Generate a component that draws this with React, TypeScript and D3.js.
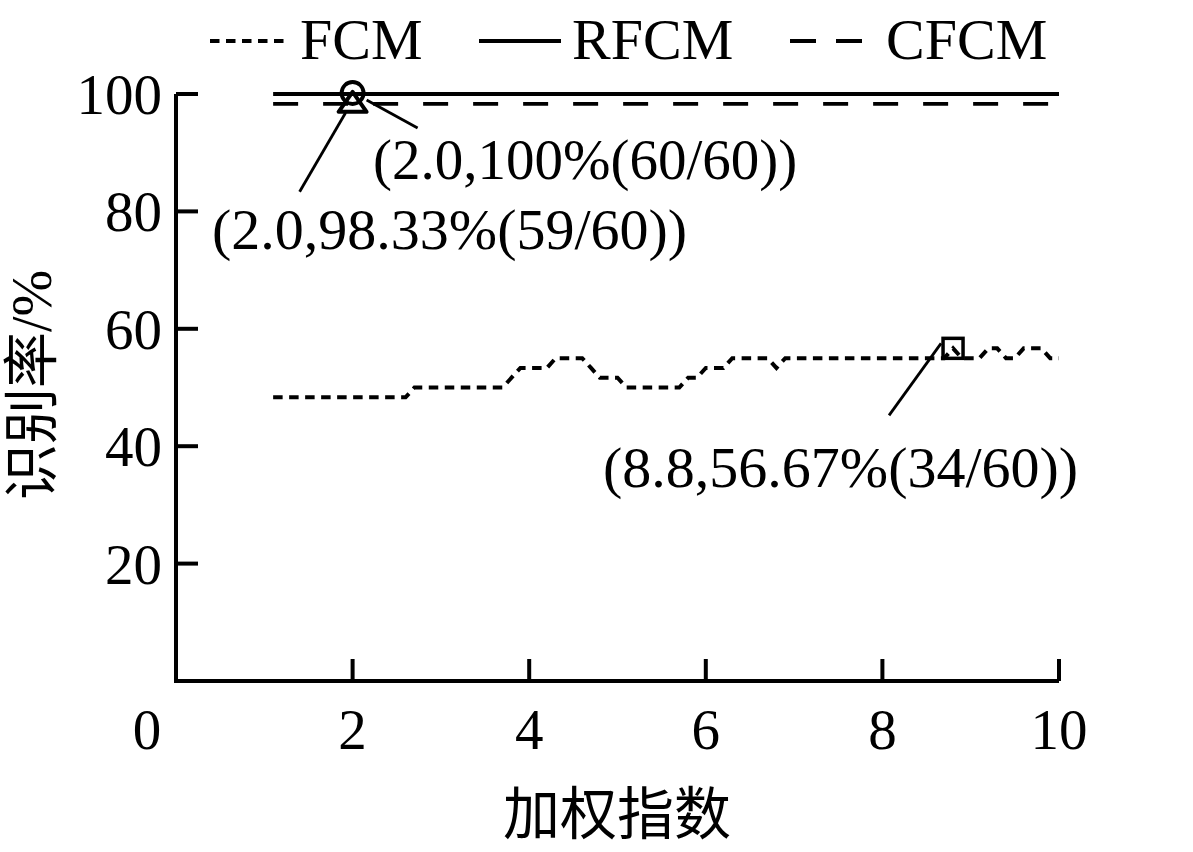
import React from "react";
import * as d3 from "d3";

const weights = [
  1.1, 1.2, 1.3, 1.4, 1.5, 1.6, 1.7, 1.8, 1.9, 2.0,
  2.1, 2.2, 2.3, 2.4, 2.5, 2.6, 2.7, 2.8, 2.9, 3.0,
  3.1, 3.2, 3.3, 3.4, 3.5, 3.6, 3.7, 3.8, 3.9, 4.0,
  4.1, 4.2, 4.3, 4.4, 4.5, 4.6, 4.7, 4.8, 4.9, 5.0,
  5.1, 5.2, 5.3, 5.4, 5.5, 5.6, 5.7, 5.8, 5.9, 6.0,
  6.1, 6.2, 6.3, 6.4, 6.5, 6.6, 6.7, 6.8, 6.9, 7.0,
  7.1, 7.2, 7.3, 7.4, 7.5, 7.6, 7.7, 7.8, 7.9, 8.0,
  8.1, 8.2, 8.3, 8.4, 8.5, 8.6, 8.7, 8.8, 8.9, 9.0,
  9.1, 9.2, 9.3, 9.4, 9.5, 9.6, 9.7, 9.8, 9.9, 10.0,
];

const fcm = [
  48.33, 48.33, 48.33, 48.33, 48.33, 48.33, 48.33, 48.33, 48.33, 48.33,
  48.33, 48.33, 48.33, 48.33, 48.33, 48.33, 50, 50, 50, 50,
  50, 50, 50, 50, 50, 50, 50, 51.67, 53.33, 53.33,
  53.33, 53.33, 55, 55, 55, 55, 53.33, 51.67, 51.67, 51.67,
  50, 50, 50, 50, 50, 50, 50, 51.67, 51.67, 53.33,
  53.33, 53.33, 55, 55, 55, 55, 55, 53.33, 55, 55,
  55, 55, 55, 55, 55, 55, 55, 55, 55, 55,
  55, 55, 55, 55, 55, 55, 55, 56.67, 55, 55,
  55, 56.67, 56.67, 55, 55, 56.67, 56.67, 56.67, 55, 55,
];

const rfcmX = [1.1, 10.0];
const rfcm = [100, 100];
const cfcmX = [1.1, 10.0];
const cfcm = [98.33, 98.33];

const xTicks = [0, 2, 4, 6, 8, 10];
const yTicks = [20, 40, 60, 80, 100];

const legendNames = ["FCM", "RFCM", "CFCM"];

const annotations = [
  { x: 2.0, y: 100, text: "(2.0,100%(60/60))" },
  { x: 2.0, y: 98.33, text: "(2.0,98.33%(59/60))" },
  { x: 8.8, y: 56.67, text: "(8.8,56.67%(34/60))" },
];

const W = 1193;
const H = 852;
const serif = "'Liberation Serif', 'Times New Roman', serif";
const cjk = "'Liberation Serif', 'Noto Sans CJK SC', serif";

export default function App() {
  const x = d3.scaleLinear().domain([0, 10]).range([176, 1059]);
  const y = d3.scaleLinear().domain([0, 100]).range([681, 94]);

  const line = d3
    .line<[number, number]>()
    .x((d) => x(d[0]))
    .y((d) => y(d[1]));

  const fcmPts = weights.map((w, i) => [w, fcm[i]] as [number, number]);
  const rfcmPts = rfcmX.map((w, i) => [w, rfcm[i]] as [number, number]);
  const cfcmPts = cfcmX.map((w, i) => [w, cfcm[i]] as [number, number]);

  const styles = [
    { dash: "9.5,6.5", width: 4 },
    { dash: "none", width: 4 },
    { dash: "25,25", width: 3.8 },
  ];
  const legendLayout = [
    { x1: 210, x2: 285, tx: 300 },
    { x1: 479, x2: 561, tx: 572 },
    { x1: 790, x2: 866, tx: 886, dash: "26,20" },
  ];

  const a0 = annotations[0];
  const a1 = annotations[1];
  const a2 = annotations[2];

  const cx0 = x(a0.x);
  const cy0 = y(a0.y);
  const cx1 = x(a1.x);
  const cy1 = y(a1.y);
  const cx2 = x(a2.x);
  const cy2 = y(a2.y);

  const tri = `M${cx1},${cy1 - 12} L${cx1 + 14},${cy1 + 8} L${cx1 - 14},${cy1 + 8} Z`;

  return (
    <svg
      width={W}
      height={H}
      style={{ position: "absolute", left: 0, top: 0, background: "#fff" }}
    >
      <path
        d={line(fcmPts) || ""}
        fill="none"
        stroke="#000"
        strokeWidth={styles[0].width}
        strokeDasharray={styles[0].dash}
      />
      <path
        d={line(rfcmPts) || ""}
        fill="none"
        stroke="#000"
        strokeWidth={styles[1].width}
      />
      <path
        d={line(cfcmPts) || ""}
        fill="none"
        stroke="#000"
        strokeWidth={styles[2].width}
        strokeDasharray={styles[2].dash}
      />

      <path
        d={`M${x(0)},${y(100)} L${x(0)},${y(0)} L${x(10)},${y(0)}`}
        fill="none"
        stroke="#000"
        strokeWidth={4}
      />
      {yTicks.map((t) => (
        <g key={"y" + t}>
          <line x1={x(0)} x2={x(0) + 22} y1={y(t)} y2={y(t)} stroke="#000" strokeWidth={4} />
          <text
            x={162}
            y={y(t) + 20}
            textAnchor="end"
            fontFamily={serif}
            fontSize={57}
          >
            {t}
          </text>
        </g>
      ))}
      {xTicks.map((t) => (
        <g key={"x" + t}>
          {t > 0 && (
            <line x1={x(t)} x2={x(t)} y1={y(0)} y2={y(0) - 22} stroke="#000" strokeWidth={4} />
          )}
          <text
            x={t === 0 ? x(t) - 29 : x(t)}
            y={749}
            textAnchor="middle"
            fontFamily={serif}
            fontSize={57}
          >
            {t}
          </text>
        </g>
      ))}

      <text x={617} y={834} textAnchor="middle" fontFamily={cjk} fontSize={57}>
        加权指数
      </text>
      <text
        transform={`translate(51,385) rotate(-90)`}
        textAnchor="middle"
        fontFamily={cjk}
        fontSize={56}
      >
        识别率/%
      </text>

      {legendNames.map((n, i) => (
        <g key={n}>
          <line
            x1={legendLayout[i].x1}
            x2={legendLayout[i].x2}
            y1={41}
            y2={41}
            stroke="#000"
            strokeWidth={styles[i].width}
            strokeDasharray={legendLayout[i].dash || styles[i].dash}
          />
          <text x={legendLayout[i].tx} y={59} fontFamily={serif} fontSize={58}>
            {n}
          </text>
        </g>
      ))}

      <circle cx={cx0} cy={cy0 - 1} r={11} fill="none" stroke="#000" strokeWidth={3.8} />
      <path d={tri} fill="none" stroke="#000" strokeWidth={4} strokeLinejoin="round" />
      <rect x={cx2 - 10} y={cy2 - 10} width={20} height={20} fill="none" stroke="#000" strokeWidth={3.5} />

      <line x1={cx0 + 14} y1={cy0 + 6} x2={cx0 + 65} y2={cy0 + 34} stroke="#000" strokeWidth={2.8} />
      <line x1={cx1 - 7} y1={cy1 + 9} x2={cx1 - 53} y2={cy1 + 88} stroke="#000" strokeWidth={2.8} />
      <line x1={cx2 - 12} y1={cy2 - 5} x2={cx2 - 64} y2={cy2 + 67} stroke="#000" strokeWidth={2.8} />

      <text x={373} y={179} fontFamily={serif} fontSize={57}>
        {a0.text}
      </text>
      <text x={212} y={249} fontFamily={serif} fontSize={58}>
        {a1.text}
      </text>
      <text x={603} y={487} fontFamily={serif} fontSize={58}>
        {a2.text}
      </text>
    </svg>
  );
}
